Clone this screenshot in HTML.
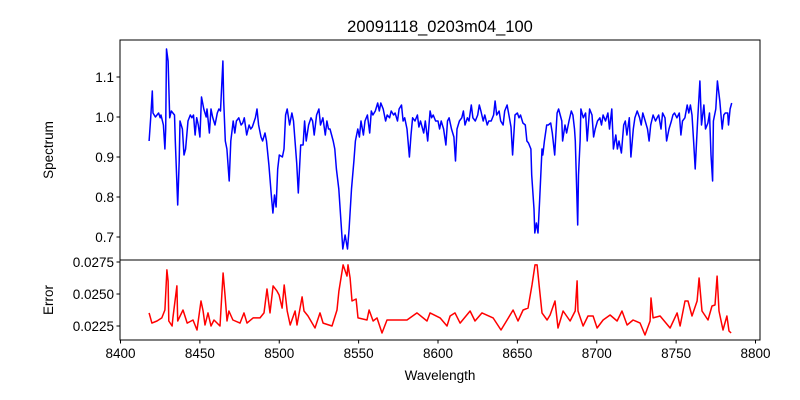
<!DOCTYPE html>
<html><head><meta charset="utf-8"><style>
body{margin:0;background:#fff;}
svg{display:block;font-family:"Liberation Sans","DejaVu Sans",sans-serif;}
</style></head><body>
<svg id="chart" width="800" height="400" viewBox="0 0 800 400">
<rect width="800" height="400" fill="#fff"/>
<text x="440" y="32" font-size="16.5" text-anchor="middle">20091118_0203m04_100</text>
<g id="topAx"></g><g id="botAx"></g>
<text x="440" y="380" font-size="13.5" text-anchor="middle">Wavelength</text>
<text transform="translate(53,150) rotate(-90)" font-size="13.5" text-anchor="middle">Spectrum</text>
<text transform="translate(53,300) rotate(-90)" font-size="13.5" text-anchor="middle">Error</text>
</svg>
<script>
const specWl=[8418,8419,8420,8420.5,8422,8424,8425,8425.5,8427,8428,8428.5,8429,8430,8431,8432,8434,8434.5,8436,8437,8437.5,8439,8440,8441,8442.5,8444,8445,8446,8447,8448,8449,8450,8451,8452.5,8454,8454.5,8456,8457,8458,8459.5,8461,8462,8463,8464.5,8465,8466,8467,8468.5,8469.5,8471,8472,8473,8474.5,8476,8477,8478,8479.5,8481,8482,8483,8485,8486,8487,8488.5,8489.5,8491,8492,8493.5,8495,8496,8497,8498,8499,8500,8502,8503,8504,8505,8506.5,8508,8509,8511,8512,8513.5,8515,8516,8517,8518.5,8520,8521,8522,8523.5,8525,8526,8527.5,8529,8530,8531,8532,8534,8535,8536,8537.5,8539,8540,8541.5,8543,8544,8545.5,8547,8548,8549.5,8550.5,8551.5,8553,8554,8555.5,8557,8558,8559,8560.5,8562,8563,8564,8565.5,8567,8568,8569.5,8570.5,8572,8573,8574.5,8575.5,8577,8578,8579,8580.5,8582,8583,8584,8585.5,8587,8588,8589,8591,8592,8593.5,8595,8596,8597,8598.5,8600,8601,8602,8603.5,8605,8606,8607,8608.5,8610,8611,8612,8613.5,8615,8616,8617,8618.5,8619.5,8621,8622,8623.5,8625,8626,8627,8628.5,8629.5,8631,8632,8633.5,8635,8636,8637,8638.5,8639.5,8641,8642,8643.5,8645,8646,8647,8648.5,8650,8651,8652,8653.5,8655,8656,8657,8658.5,8659,8660.5,8661,8662,8663,8664,8665.5,8666,8667,8668.5,8669.5,8671,8672,8673.5,8675,8676,8677,8678,8678.5,8680,8681,8682.5,8684,8685,8686,8686.5,8687,8688,8688.5,8689.5,8690,8691.5,8693,8694,8695.5,8697,8698,8699,8700.5,8702,8703,8704,8705.5,8707,8708,8709.5,8710.5,8712,8713,8714,8715.5,8717,8718,8719,8720.5,8721.5,8723,8724,8725.5,8727,8728,8729,8730.5,8732,8733,8734,8735.5,8737,8738,8739,8740.5,8741.5,8743,8744,8745.5,8747,8748,8749,8750.5,8752,8753,8754,8755.5,8757,8758,8759,8760,8761,8762,8763.5,8765,8766,8767.5,8768.5,8770,8771,8772,8773,8773.5,8775,8776,8777.5,8779,8780,8781,8782.5,8783,8784,8785];
const specVal=[0.94,0.998,1.065,1.01,1.0,1.01,0.998,1.005,0.98,0.92,0.97,1.17,1.14,0.998,1.015,1.005,0.94,0.78,0.89,0.99,0.97,0.905,0.92,0.99,1.005,0.998,1.005,0.955,0.998,0.98,0.95,1.05,1.02,1.0,1.02,0.96,1.02,1.0,0.98,1.01,1.02,1.015,1.14,1.04,0.94,0.92,0.84,0.94,0.99,0.96,0.99,0.998,0.98,0.985,0.998,0.955,0.98,0.97,0.975,0.998,1.02,0.98,0.95,0.94,0.96,0.94,0.88,0.805,0.76,0.805,0.775,0.87,0.905,0.9,0.92,1.005,1.02,0.98,1.01,0.99,0.885,0.81,0.93,0.93,0.99,0.94,0.98,0.998,0.99,0.955,1.005,1.02,0.98,0.998,0.955,0.99,0.97,0.97,0.94,0.92,0.87,0.82,0.73,0.67,0.705,0.67,0.72,0.82,0.89,0.94,0.97,0.95,0.99,0.955,0.99,1.005,0.96,1.015,1.005,1.015,1.035,1.015,1.035,1.02,0.99,1.005,0.998,1.015,1.005,1.01,0.99,1.02,1.03,0.99,0.998,0.97,0.9,0.955,0.998,0.99,1.005,0.975,0.99,0.96,0.99,0.94,1.015,0.998,1.005,0.99,0.99,0.97,0.99,0.97,0.93,0.99,0.998,0.97,0.95,0.89,0.97,0.99,0.998,1.015,0.98,0.998,0.99,1.03,0.998,0.99,1.005,1.03,1.015,0.99,1.005,0.98,0.99,0.99,1.005,1.04,1.005,1.015,0.99,0.98,1.015,1.03,0.998,0.975,0.905,1.005,1.01,0.998,1.005,0.985,0.98,0.94,0.935,0.92,0.855,0.77,0.71,0.735,0.71,0.79,0.92,0.905,0.94,0.98,0.98,0.985,0.96,0.905,1.01,1.02,1.005,0.99,0.94,0.98,0.96,0.99,1.015,1.005,0.97,0.94,0.87,0.73,0.855,0.94,1.02,0.998,1.01,0.94,1.02,1.005,0.95,0.97,0.99,0.998,0.98,1.005,0.99,1.01,0.97,1.02,0.92,0.955,0.92,0.94,0.91,0.98,0.99,0.955,0.998,0.9,0.97,0.998,1.015,0.998,0.98,1.01,0.99,0.97,0.94,0.98,1.005,0.99,0.998,1.005,0.97,1.01,0.998,0.94,0.97,0.99,1.005,1.01,0.998,1.01,0.955,0.99,0.998,1.03,1.01,1.03,1.005,0.94,0.87,0.99,1.09,0.98,1.03,0.97,0.985,1.01,0.905,0.84,0.99,1.02,1.09,1.04,0.97,1.005,1.01,1.01,0.98,1.02,1.035];
const errWl=[8418,8419.8,8423,8426,8428,8429.2,8430,8430.4,8432.5,8433,8435.5,8436,8439.4,8442,8445.7,8448.2,8450.7,8452,8453.2,8455.1,8457,8458.9,8462.7,8464.6,8465.8,8467.1,8468.3,8470.8,8475.3,8477.8,8479.7,8483.5,8487.9,8490.4,8492.3,8494.2,8496.1,8498.6,8499.9,8501.8,8503.1,8505,8506.9,8510,8511.2,8514.4,8515.6,8518.1,8522.5,8525.7,8527.6,8533.2,8536.4,8537.6,8540.2,8542.7,8543.3,8544.6,8545.8,8548.4,8549.6,8555.3,8556.6,8559.1,8561.6,8564.7,8567.9,8580.5,8586.8,8593.1,8595,8601.3,8605.7,8607.6,8610.7,8613.9,8620.2,8623.3,8627.7,8634.7,8639.7,8643.5,8647.3,8650.4,8653.6,8656.7,8659.2,8661.1,8662.4,8663.7,8665.5,8668.7,8670.6,8673.7,8675.6,8678.8,8683.2,8686.4,8687.6,8688.2,8691.4,8694.5,8697.7,8700.2,8704,8708.4,8712.8,8715.9,8719.1,8722.9,8727.3,8730.4,8733.6,8734.2,8735.5,8739.9,8746.2,8750.6,8752.5,8755.6,8757.5,8760,8763.2,8764.5,8766.3,8770.1,8772.6,8774.5,8775.8,8777,8779.5,8782,8783.3,8784.6];
const errVal=[0.02352,0.02273,0.02289,0.02313,0.02375,0.02688,0.02602,0.02289,0.0225,0.02313,0.02563,0.02289,0.02375,0.02273,0.02297,0.02219,0.02445,0.02367,0.02258,0.02352,0.0225,0.02297,0.0225,0.02664,0.02492,0.02289,0.02367,0.02297,0.02273,0.02352,0.02273,0.02313,0.02313,0.02352,0.02539,0.02352,0.02563,0.02523,0.02492,0.0239,0.0257,0.02367,0.02258,0.02367,0.02258,0.02477,0.02367,0.02328,0.02234,0.02352,0.02273,0.0225,0.02375,0.02523,0.02727,0.0264,0.02727,0.02625,0.02445,0.02461,0.02313,0.02297,0.02375,0.02289,0.02313,0.02195,0.02297,0.02297,0.02352,0.02289,0.02352,0.02313,0.0225,0.02328,0.02352,0.02273,0.02367,0.02289,0.02352,0.02313,0.02219,0.02297,0.02375,0.02289,0.02375,0.0239,0.0257,0.02727,0.02727,0.0257,0.02352,0.02297,0.02336,0.02445,0.02234,0.02367,0.02289,0.02367,0.02602,0.02367,0.0225,0.02328,0.02328,0.02234,0.02297,0.02336,0.02289,0.02367,0.02258,0.02297,0.02273,0.0218,0.02289,0.02469,0.02313,0.02328,0.02234,0.02352,0.0225,0.02445,0.02445,0.02328,0.02445,0.02625,0.02367,0.02297,0.02406,0.02414,0.0264,0.02367,0.02219,0.02328,0.02211,0.02195];
const xTicks=[8400,8450,8500,8550,8600,8650,8700,8750,8800];
const specTicks=[0.7,0.8,0.9,1.0,1.1];
const errTicks=[0.0225,0.0250,0.0275];

const NS='http://www.w3.org/2000/svg';
const L=120,R=760;
const xs=w=>120.5+(w-8400)*1.5875;
const ySpec=v=>77+(1.1-v)*400;
const yErr=v=>262+(0.0275-v)*12800;
function mk(tag,attrs,parent){const e=document.createElementNS(NS,tag);for(const k in attrs)e.setAttribute(k,attrs[k]);parent.appendChild(e);return e;}
const gTop=document.getElementById('topAx'),gBot=document.getElementById('botAx');

function axes(g,y0,y1,yt,yf,fmt,name){
  const fr=mk('rect',{x:L,y:y0,width:R-L,height:y1-y0,fill:'none',stroke:'#000','stroke-width':1},g);
  
  
  yt.forEach(v=>{
    const y=yf(v);
    const t=mk('line',{x1:L-3.5,x2:L,y1:y,y2:y,stroke:'#000'},g);
    
    
    const tx=mk('text',{x:L-6,y:y+5,'font-size':13.5,'text-anchor':'end'},g);
    tx.textContent=fmt(v);
    
    
  });
}
axes(gTop,40,260,specTicks,ySpec,v=>v.toFixed(1),'spectrum');
axes(gBot,260,340,errTicks,yErr,v=>v.toFixed(4),'error');
xTicks.forEach(w=>{
  const x=xs(w);
  const t=mk('line',{x1:x,x2:x,y1:340,y2:343.5,stroke:'#000'},gBot);
  
  
  const tx=mk('text',{x:x,y:358,'font-size':13.5,'text-anchor':'middle'},gBot);
  tx.textContent=w;
  
  
});
const sp=mk('polyline',{points:specWl.map((w,i)=>xs(w).toFixed(1)+','+ySpec(specVal[i]).toFixed(1)).join(' '),fill:'none',stroke:'#0000ff','stroke-width':1.5,'stroke-linejoin':'round'},gTop);


const er=mk('polyline',{points:errWl.map((w,i)=>xs(w).toFixed(1)+','+yErr(errVal[i]).toFixed(1)).join(' '),fill:'none',stroke:'#ff0000','stroke-width':1.5,'stroke-linejoin':'round'},gBot);


</script>
</body></html>
